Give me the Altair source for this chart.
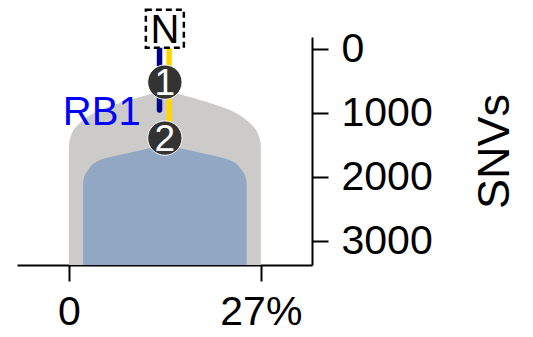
import altair as alt
import pandas as pd

# ---- data ----
center = 13.5  # % (x position of the trunk)

gray_snv = [641, 750, 953, 1156, 1313, 1531, 3375]
gray_halfwidth = [0.0, 3.5, 9.1, 11.95, 13.08, 13.5, 13.5]

blue_snv = [1500, 1609, 1734, 1891, 2094, 3375]
blue_halfwidth = [0.0, 4.5, 9.1, 10.8, 11.5, 11.5]

node_labels = ["1", "2"]
node_snv = [516, 1391]

root_label = ["N"]
root_snv = [-320]

branch_names = ["RB1", "other"]
branch_x = [12.75, 14.1]
branch_start = [-320, -320]
branch_end = [953, 1391]
branch_colors = ["#00008B", "#FFD700"]

gene_label = ["RB1"]
gene_x = [10.1]
gene_snv = [969]

x_ticks = [0, 27]
y_ticks = [0, 1000, 2000, 3000]

FONT = "Liberation Sans"

gray_df = pd.DataFrame({"snv": gray_snv,
                        "left": [center - h for h in gray_halfwidth],
                        "right": [center + h for h in gray_halfwidth]})
blue_df = pd.DataFrame({"snv": blue_snv,
                        "left": [center - h for h in blue_halfwidth],
                        "right": [center + h for h in blue_halfwidth]})
node_df = pd.DataFrame({"label": node_labels, "snv": node_snv, "x": [center] * len(node_labels)})
root_df = pd.DataFrame({"label": root_label, "snv": root_snv, "x": [center]})
branch_df = pd.DataFrame({"name": branch_names, "x": branch_x,
                          "y1": branch_start, "y2": branch_end})
gene_df = pd.DataFrame({"label": gene_label, "x": gene_x, "snv": gene_snv})

xscale = alt.Scale(domain=[-7.3, 34.2], nice=False, zero=False)
yscale = alt.Scale(domain=[-190, 3375], nice=False, zero=False, reverse=True)

x_axis = alt.Axis(values=x_ticks, labelExpr="datum.value == 27 ? '27%' : '0'",
                  title=None, grid=False, domainColor="black", domainWidth=2,
                  tickColor="black", tickWidth=2, tickSize=16,
                  labelFontSize=41, labelFont=FONT, labelColor="black",
                  labelPadding=11, labelFlush=False)
y_axis = alt.Axis(values=y_ticks, format="d", orient="right", title="SNVs", grid=False,
                  domainColor="black", domainWidth=2, tickColor="black",
                  tickWidth=2, tickSize=16, labelFontSize=41, labelFont=FONT,
                  labelColor="black", labelPadding=13, labelFlush=False,
                  titleFontSize=45, titleFont=FONT, titleFontWeight="normal",
                  titleColor="black", titleAngle=270, titleAlign="center",
                  titleBaseline="middle", titleX=182, titleY=114)

gray = alt.Chart(gray_df).mark_area(orient="horizontal", color="#CCCBCA",
                                    interpolate="monotone").encode(
    y=alt.Y("snv:Q", scale=yscale, axis=y_axis),
    x=alt.X("left:Q", scale=xscale, axis=x_axis),
    x2="right:Q",
)
blue = alt.Chart(blue_df).mark_area(orient="horizontal", color="#91A7C3",
                                    interpolate="monotone").encode(
    y=alt.Y("snv:Q", scale=yscale),
    x=alt.X("left:Q", scale=xscale),
    x2="right:Q",
)
branches = alt.Chart(branch_df).mark_rule(strokeWidth=5.5, strokeCap="round").encode(
    x=alt.X("x:Q", scale=xscale),
    y=alt.Y("y1:Q", scale=yscale),
    y2="y2:Q",
    color=alt.Color("name:N", scale=alt.Scale(domain=branch_names, range=branch_colors),
                    legend=None),
)
circles = alt.Chart(node_df).mark_circle(size=1180, color="#333333", opacity=1,
                                         stroke="white", strokeWidth=1).encode(
    x=alt.X("x:Q", scale=xscale), y=alt.Y("snv:Q", scale=yscale))
numbers = alt.Chart(node_df).mark_text(fontSize=37, font=FONT, color="white",
                                       baseline="middle", align="center", dy=2).encode(
    x=alt.X("x:Q", scale=xscale), y=alt.Y("snv:Q", scale=yscale), text="label:N")
root_box = alt.Chart(root_df).mark_square(size=1444, fill="white", fillOpacity=1,
                                          stroke="black", strokeWidth=2.5,
                                          strokeDash=[6, 4], opacity=1).encode(
    x=alt.X("x:Q", scale=xscale), y=alt.Y("snv:Q", scale=yscale))
root_text = alt.Chart(root_df).mark_text(fontSize=40, font=FONT, color="black",
                                         baseline="middle", align="center", dy=2).encode(
    x=alt.X("x:Q", scale=xscale), y=alt.Y("snv:Q", scale=yscale), text="label:N")
gene = alt.Chart(gene_df).mark_text(fontSize=40, font=FONT, color="#0000FF",
                                    baseline="middle", align="right", dy=2).encode(
    x=alt.X("x:Q", scale=xscale), y=alt.Y("snv:Q", scale=yscale), text="label:N")

chart = alt.layer(gray, blue, branches, circles, numbers, root_box, root_text, gene).properties(
    width=295, height=228,
    autosize=alt.AutoSizeParams(type="none"),
    padding={"left": 9, "top": 29, "right": 205, "bottom": 64},
    background="white",
).configure_view(stroke=None)

chart.save("out.html", embed_options={"renderer": "svg", "actions": False})
